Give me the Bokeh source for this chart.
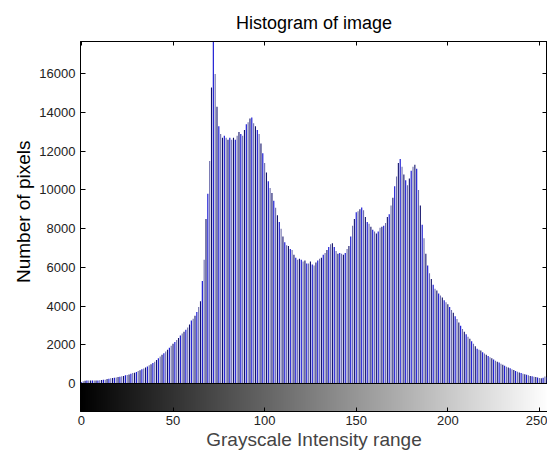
import numpy as np
from bokeh.plotting import figure
from bokeh.models import LinearAxis, FixedTicker, Range1d, LinearColorMapper, Span, ColumnDataSource, Title
from bokeh.embed import file_html
from bokeh.resources import INLINE

# ---- data ----
intensity = list(range(256))
pixel_counts = [
    60, 120, 140, 150, 150, 150, 150, 160, 150, 160, 170, 180, 190, 200, 230, 250,
    270, 280, 300, 310, 330, 350, 370, 390, 420, 440, 470, 510, 540, 560, 600, 640,
    690, 730, 780, 830, 880, 940, 1000, 1060, 1130, 1220, 1300, 1400, 1480, 1560, 1650, 1750,
    1850, 1950, 2050, 2150, 2250, 2350, 2480, 2580, 2680, 2780, 2900, 3050, 3250, 3350, 3500, 3700,
    3950, 4250, 5300, 6400, 8500, 9800, 11500, 15300, 17800, 16000, 14300, 13300, 12900, 12700, 12800, 12700,
    12600, 12700, 12600, 12700, 12600, 12800, 13000, 12900, 12800, 13100, 13400, 13500, 13700, 13750, 13450, 13300,
    13100, 12900, 12400, 11900, 11400, 10900, 10450, 10100, 9850, 9450, 9080, 8700, 8350, 8000, 7600, 7300,
    7150, 7100, 6950, 6900, 6650, 6500, 6400, 6450, 6400, 6300, 6350, 6200, 6200, 6300, 6150, 6100,
    6250, 6350, 6450, 6500, 6650, 6750, 6900, 7050, 7200, 7250, 7050, 6850, 6700, 6750, 6700, 6650,
    6750, 6950, 7100, 7600, 8150, 8500, 8850, 8900, 9000, 9100, 8950, 8600, 8350, 8250, 8100, 7950,
    7850, 7750, 7850, 8050, 8100, 8150, 8300, 8600, 8750, 9200, 9600, 10200, 10700, 11400, 11600, 11200,
    10800, 10500, 10250, 10600, 11000, 11200, 11300, 11100, 10000, 9200, 8200, 7500, 6700, 6100, 5700, 5400,
    5100, 4900, 4800, 4650, 4550, 4450, 4300, 4200, 4100, 3950, 3800, 3650, 3480, 3330, 3150, 2980,
    2820, 2680, 2550, 2420, 2310, 2180, 2050, 1920, 1800, 1750, 1700, 1620, 1550, 1480, 1420, 1360,
    1300, 1240, 1180, 1130, 1080, 1020, 970, 920, 870, 830, 790, 740, 700, 650, 610, 570,
    540, 510, 480, 450, 420, 390, 370, 350, 330, 310, 290, 270, 300, 360, 320, 200,
]
y_ticks = [0, 2000, 4000, 6000, 8000, 10000, 12000, 14000, 16000]
x_ticks = [0, 50, 100, 150, 200, 250]

Y_TOP = 17674
Y_BOTTOM = -1447

stem_palette = ["#0c0cd0", "#6e6eac", "#12126a"]
colors = [stem_palette[i % 3] for i in range(len(intensity))]
src = ColumnDataSource(dict(x=intensity, top=pixel_counts, color=colors))

p = figure(width=547, height=455, output_backend="svg", toolbar_location=None,
           x_range=Range1d(-0.5, 254.4), y_range=Range1d(Y_BOTTOM, Y_TOP),
           min_border_left=80, min_border_right=0, min_border_top=41, min_border_bottom=44,
           title="Histogram of image")
p.grid.visible = False
p.background_fill_color = "white"
p.border_fill_color = "white"
p.outline_line_color = "black"
p.outline_line_width = 1

p.title.align = "center"
p.title.text_font = "Liberation Sans"
p.title.text_font_size = "18px"
p.title.text_font_style = "normal"
p.title.text_color = "black"
p.title.standoff = 18

# grayscale colour bar strip
gray_pal = ["#%02x%02x%02x" % (v, v, v) for v in range(256)]
mapper = LinearColorMapper(palette=gray_pal, low=0, high=255)
p.image(image=[np.arange(256).reshape(1, 256)], x=-0.5, y=Y_BOTTOM, dw=256, dh=-Y_BOTTOM,
        color_mapper=mapper)

p.vbar(x="x", top="top", bottom=0, width=0.6, fill_color="color", line_color=None, source=src)

p.add_layout(Span(location=0, dimension="width", line_color="black", line_width=1))

font = "Liberation Sans"
for ax in p.xaxis:
    ax.ticker = FixedTicker(ticks=x_ticks)
    ax.major_tick_in = 4
    ax.major_tick_out = 0
    ax.minor_tick_in = 0
    ax.minor_tick_out = 0
    ax.major_label_text_font = font
    ax.major_label_text_font_size = "13px"
    ax.major_label_text_color = "#222222"
    ax.major_label_standoff = 4
    ax.axis_label = "Grayscale Intensity range"
    ax.axis_label_text_font = font
    ax.axis_label_text_font_size = "19px"
    ax.axis_label_text_font_style = "normal"
    ax.axis_label_standoff = 1
    ax.axis_line_color = "black"

for ax in p.yaxis:
    ax.ticker = FixedTicker(ticks=y_ticks)
    ax.major_tick_in = 5
    ax.major_tick_out = 0
    ax.minor_tick_in = 0
    ax.minor_tick_out = 0
    ax.major_label_text_font = font
    ax.major_label_text_font_size = "13px"
    ax.major_label_text_color = "#222222"
    ax.major_label_standoff = 5
    ax.axis_line_color = "black"

ylab = Title(text="Number of pixels", align="right", offset=99, text_font=font,
             text_font_size="19px", text_font_style="normal", text_color="black", standoff=6)
p.add_layout(ylab, "left")

top_ax = LinearAxis(ticker=FixedTicker(ticks=[], minor_ticks=x_ticks), major_tick_in=0, major_tick_out=0,
                    minor_tick_in=4, minor_tick_out=0, major_label_standoff=0, axis_line_color="black")
p.add_layout(top_ax, "above")

right_ax = LinearAxis(ticker=FixedTicker(ticks=[], minor_ticks=y_ticks), major_tick_in=0, major_tick_out=0,
                      minor_tick_in=5, minor_tick_out=0, major_label_standoff=0, axis_line_color="black")
p.add_layout(right_ax, "right")

open("out.html", "w").write(file_html(p, INLINE))
